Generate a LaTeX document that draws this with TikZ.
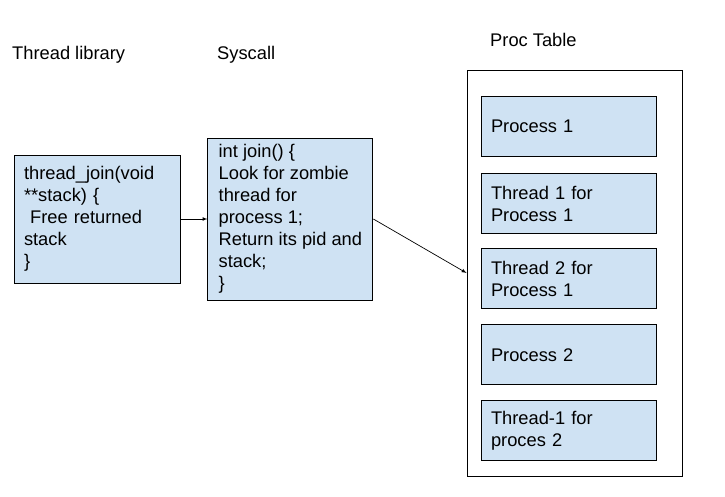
\documentclass[tikz,border=0pt]{standalone}
\usepackage{fontspec}
\setmainfont{Liberation Sans}
\usetikzlibrary{positioning, arrows}

\definecolor{boxblue}{HTML}{CFE2F3}

\begin{document}
\begin{tikzpicture}[x=1pt, y=-1pt,
        every node/.style={font=\fontsize{18.3}{22}\selectfont},
        block/.style={draw, line width=0.9pt, rectangle, fill=boxblue, inner xsep=10pt, align=left},
        entry/.style={block, minimum width=175pt, minimum height=60pt, text width=155pt},
        title/.style={anchor=west, inner sep=0pt},
        node distance=15pt, >=latex]

        \useasboundingbox (0,0) rectangle (725,497);

        % Titles
        \node (libTitle) [title] at (12,55) {Thread library};
        \node (sysTitle) [title] at (217,55) {Syscall};
        \node (tabTitle) [title] at (490,40) {Proc Table};

        % Code boxes
        \node (lib) [block, minimum width=166pt, minimum height=128pt, text width=146pt] at (97,219)
            {thread\_join(void\\{}**stack) \{\\\ Free returned\\stack\\\}};
        \node (sys) [block, right=27pt of lib, minimum width=165pt, minimum height=162pt]
            {int join() \{\\Look for zombie\\thread for\\process 1;\\Return its pid and\\stack;\\\}};

        % Proc table
        \node (table) [draw, line width=0.9pt, rectangle, minimum width=215pt, minimum height=406pt] at (574.5,273) {};
        \node (proc1) [entry] at (568.5,126) {Process 1};
        \node (thr1) [entry, below=17pt of proc1] {Thread 1 for\\Process 1};
        \node (thr2) [entry, below=14pt of thr1] {Thread 2 for\\Process 1};
        \node (proc2) [entry, below=of thr2] {Process 2};
        \node (thr3) [entry, below=of proc2] {Thread-1 for\\proces 2};

        % Connections
        \draw[->, line width=0.7pt] (lib) -- (sys);
        \draw[->, line width=0.7pt] (sys.east) -- (table.west);
\end{tikzpicture}
\end{document}
